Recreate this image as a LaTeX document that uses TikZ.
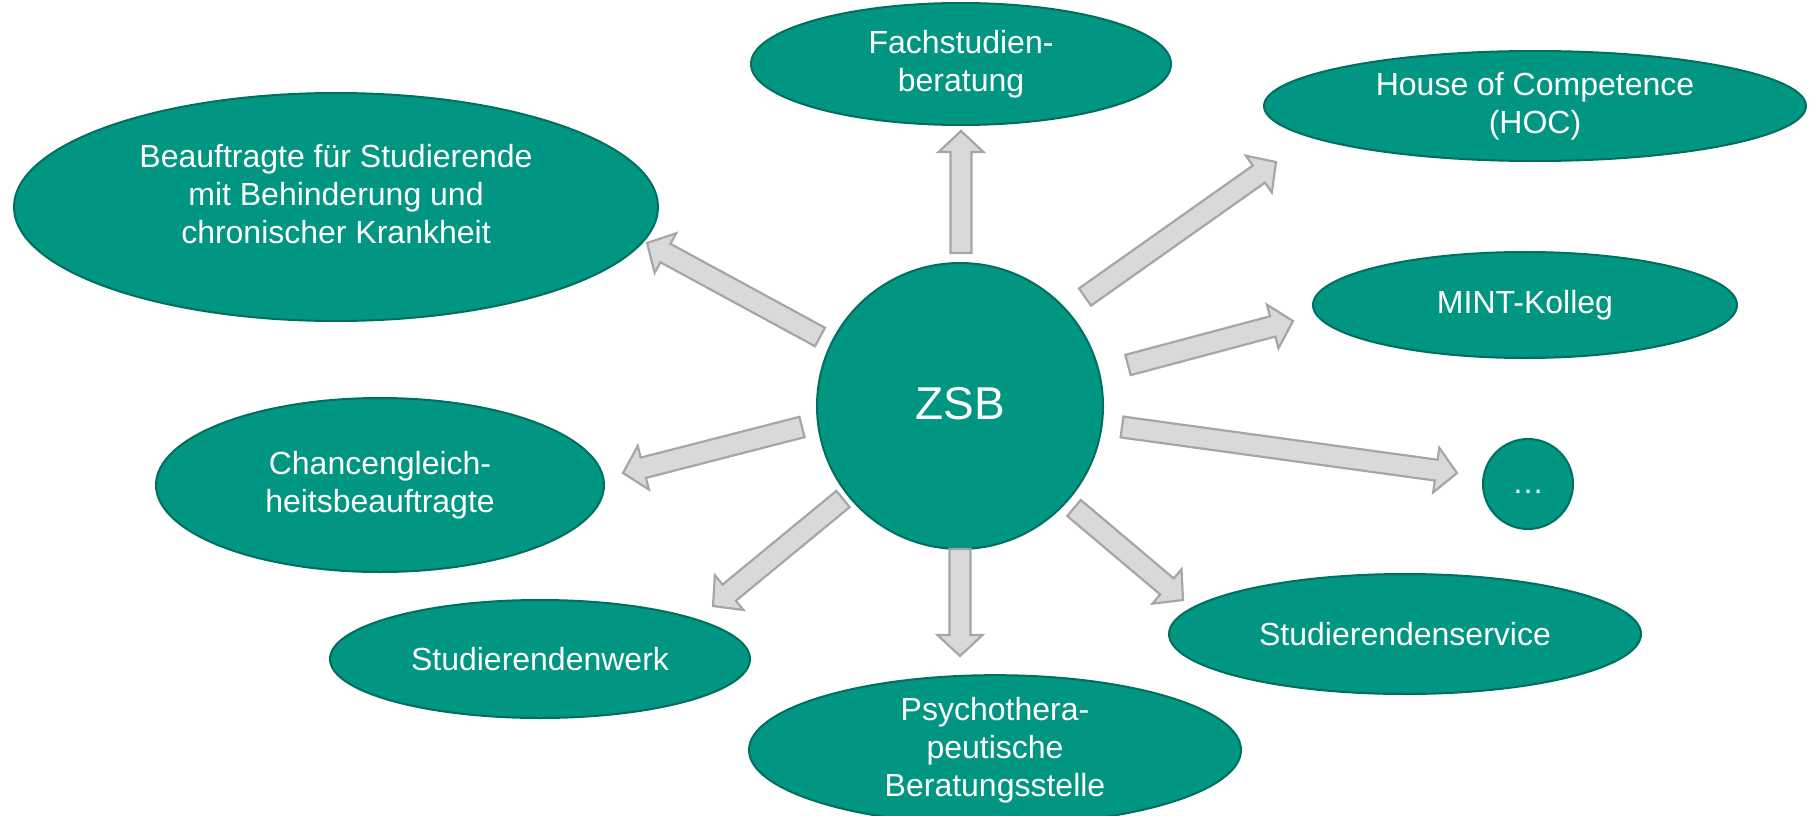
\documentclass[tikz,border=0pt]{standalone}
\usepackage{fontspec}
\setmainfont{Liberation Sans}
\usetikzlibrary{shapes.geometric,calc}
\definecolor{teal1}{HTML}{009681}
\definecolor{teal2}{HTML}{006F5F}
\definecolor{arrfill}{HTML}{D9D9D9}
\definecolor{arrdraw}{HTML}{A6A6A6}
\tikzset{
  bubble/.style={ellipse, fill=teal1, draw=teal2, line width=2pt, inner sep=0pt, align=center, text=white, font=\fontsize{32}{38}\selectfont},
  bubbletext/.style={inner sep=0pt, align=center, text=white, font=\fontsize{32}{38}\selectfont},
  blockarr/.style={fill=arrfill, draw=arrdraw, line width=2.2pt, line join=miter},
}
\newcommand\blockarrow[2]{%
  \coordinate (m) at ($(#2)!21pt!(#1)$);
  \draw[blockarr] ($(#1)!10.5pt!90:(#2)$) -- ($(m)!10.5pt!90:(#2)$) -- ($(m)!22.5pt!90:(#2)$) -- (#2)
    -- ($(m)!22.5pt!-90:(#2)$) -- ($(m)!10.5pt!-90:(#2)$) -- ($(#1)!10.5pt!-90:(#2)$) -- cycle;
}
\begin{document}
\begin{tikzpicture}[x=1pt,y=-1pt]
\useasboundingbox (0,0) rectangle (1810,816);
\node[bubble, minimum width=420, minimum height=122] (fach) at (961,64) {Fachstudien-\\beratung};
\node[bubble, minimum width=542, minimum height=110] (hoc) at (1535,106) {House of Competence\\(HOC)};
\node[bubble, minimum width=644, minimum height=228] (beauf) at (336,207) {};
\node[bubbletext] (beauftext) at (336,194) {Beauftragte für Studierende\\mit Behinderung und\\chronischer Krankheit};
\node[bubble, minimum width=424, minimum height=106] (mint) at (1525,305) {MINT-Kolleg};
\node[bubble, minimum width=448, minimum height=174] (chance) at (380,485) {Chancengleich-\\heitsbeauftragte};
\node[circle, fill=teal1, draw=teal2, line width=2pt, inner sep=0pt, minimum size=90, text=white, font=\fontsize{32}{38}\selectfont] (dots) at (1528,484) {\raisebox{-18pt}{…}};
\node[bubble, minimum width=420, minimum height=118] (werk) at (540,659) {Studierendenwerk};
\node[bubble, minimum width=492, minimum height=144] (psych) at (995,750) {Psychothera-\\peutische\\Beratungsstelle};
\node[bubble, minimum width=472, minimum height=120] (serv) at (1405,634) {Studierendenservice};
\node[circle, fill=teal1, draw=teal2, line width=2pt, inner sep=0pt, minimum size=286, text=white, font=\fontsize{46}{50}\selectfont] (zsb) at (960,406) {\raisebox{5pt}{ZSB}};

\coordinate (a1) at (961,253); \coordinate (b1) at (961,131);
\coordinate (a2) at (1085,297); \coordinate (b2) at (1276,162);
\coordinate (a3) at (1128,365); \coordinate (b3) at (1293,321);
\coordinate (a4) at (1122,427); \coordinate (b4) at (1457,473);
\coordinate (a5) at (1074,508); \coordinate (b5) at (1183,600);
\coordinate (a6) at (960,549); \coordinate (b6) at (960,656);
\coordinate (a7) at (843,499); \coordinate (b7) at (713,606);
\coordinate (a8) at (802,427); \coordinate (b8) at (623,473);
\coordinate (a9) at (820,337); \coordinate (b9) at (647,243);
\blockarrow{a1}{b1}
\blockarrow{a2}{b2}
\blockarrow{a3}{b3}
\blockarrow{a4}{b4}
\blockarrow{a5}{b5}
\blockarrow{a6}{b6}
\blockarrow{a7}{b7}
\blockarrow{a8}{b8}
\blockarrow{a9}{b9}
\end{tikzpicture}
\end{document}
